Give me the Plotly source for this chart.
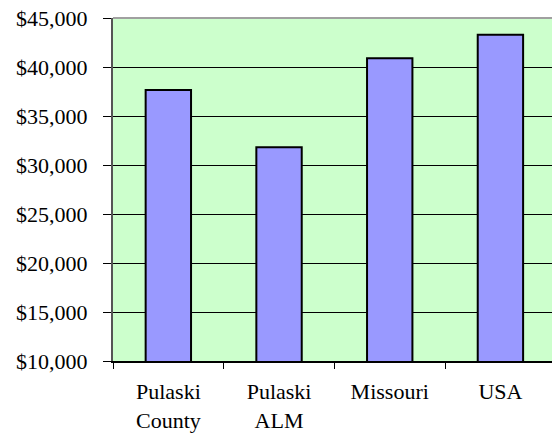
import plotly.graph_objects as go

categories = ["Pulaski<br>County", "Pulaski<br>ALM", "Missouri", "USA"]
values = [37650, 31800, 40900, 43300]
y_ticks = [10000, 15000, 20000, 25000, 30000, 35000, 40000, 45000]
y_tick_labels = ["${:,}".format(v) for v in y_ticks]

fig = go.Figure()
fig.add_trace(go.Bar(
    x=categories, y=values, width=0.41,
    marker=dict(color="#9999FF", line=dict(color="black", width=2)),
    hoverinfo="x+y",
))

font = dict(family="Liberation Serif, Times New Roman, serif", size=22, color="black")

fig.update_layout(
    width=552, height=434,
    margin=dict(l=113, r=0, t=18, b=73, autoexpand=False),
    paper_bgcolor="white", plot_bgcolor="#CCFFCC",
    showlegend=False, font=font, bargap=0.6,
)
fig.update_xaxes(
    type="category", range=[-0.5, 3.466], showgrid=False, automargin=False,
    showline=True, linecolor="black", linewidth=2,
    ticks="outside", ticklen=6, tickcolor="black", tickwidth=1,
    tickson="boundaries", tickfont=font, ticklabelstandoff=10,
)
fig.update_yaxes(
    range=[10000, 45000], tickmode="array", tickvals=y_ticks, ticktext=y_tick_labels,
    showgrid=True, gridcolor="black", gridwidth=1, zeroline=False, automargin=False,
    showline=True, linecolor="#555555", linewidth=2,
    ticks="outside", ticklen=8, tickcolor="black", tickwidth=1,
    tickfont=font, ticklabelstandoff=11, ticklabeloverflow="allow",
)
fig.add_shape(type="line", xref="paper", yref="paper", x0=0, x1=1, y0=1, y1=1,
              line=dict(color="#A0A0A0", width=2), layer="above")

fig.write_html("out.html", config={"displayModeBar": False},
               post_script="document.body.style.margin='0';")
